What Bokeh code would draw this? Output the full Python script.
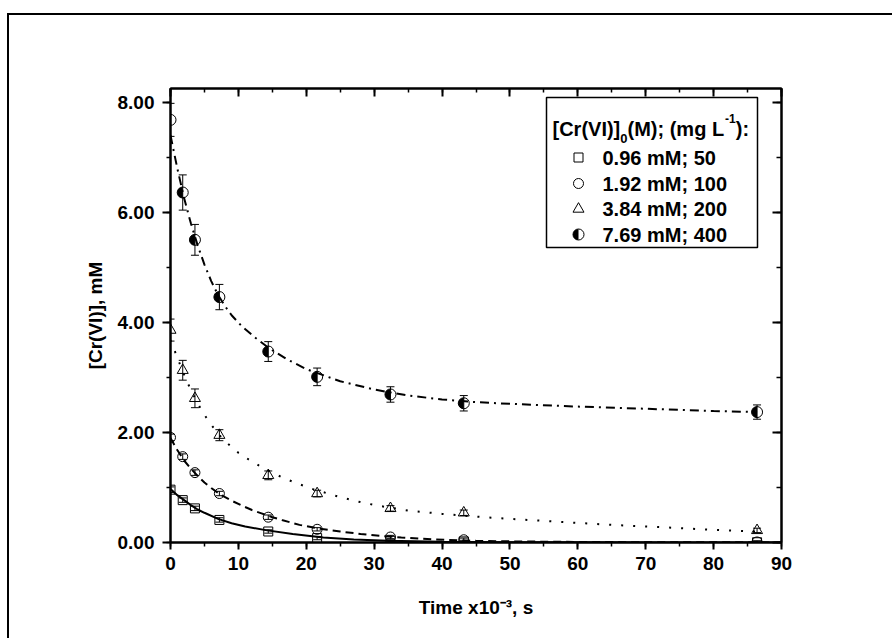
import math
from bokeh.plotting import figure
from bokeh.layouts import column
from bokeh.models import (Range1d, LinearAxis, ColumnDataSource, Whisker, TeeHead,
                          SingleIntervalTicker, PrintfTickFormatter, CustomJSTickFormatter)
from bokeh.core.properties import value
from bokeh.embed import file_html
from bokeh.resources import INLINE

# ---------------- data ----------------
time_ks = [0, 1.8, 3.6, 7.2, 14.4, 21.6, 32.4, 43.2, 86.4]

c_050 = [0.96, 0.77, 0.62, 0.41, 0.20, 0.08, 0.03, 0.02, 0.005]
c_100 = [1.91, 1.56, 1.27, 0.89, 0.46, 0.24, 0.10, 0.05, 0.01]
c_200 = [3.86, 3.13, 2.62, 1.95, 1.22, 0.89, 0.62, 0.54, 0.22]
c_400 = [7.68, 6.36, 5.50, 4.46, 3.47, 3.01, 2.69, 2.53, 2.37]

e_050 = [0.05, 0.04, 0.04, 0.04, 0.03, 0.03, 0.02, 0.02, 0.02]
e_100 = [0.06, 0.05, 0.05, 0.04, 0.04, 0.03, 0.03, 0.03, 0.02]
e_200 = [0.20, 0.18, 0.17, 0.10, 0.08, 0.06, 0.05, 0.05, 0.04]
e_400 = [0.30, 0.32, 0.28, 0.23, 0.18, 0.16, 0.14, 0.14, 0.13]

# fitted curves
fit1_t = [0, 1, 2, 3, 4, 5, 7, 9, 11, 14, 18, 22.5, 27, 32, 40, 50, 60, 75, 90]
fit1_v = [0.97, 0.86, 0.77, 0.68, 0.60, 0.54, 0.43, 0.35, 0.29, 0.225, 0.155, 0.09,
          0.055, 0.032, 0.014, 0.006, 0.003, 0.001, 0.0]

fit2_t = [0, 1, 2, 3, 4, 5, 6, 7.5, 9, 10.7, 12, 13.4, 15, 16.4, 19, 22, 25, 28, 31,
          34, 39, 45, 52, 60, 70, 80, 90]
fit2_v = [1.90, 1.68, 1.49, 1.34, 1.21, 1.09, 0.99, 0.86, 0.76, 0.66, 0.59, 0.53, 0.46,
          0.41, 0.32, 0.25, 0.20, 0.155, 0.12, 0.09, 0.055, 0.03, 0.018, 0.01, 0.005,
          0.003, 0.002]

fit3_t = [0, 1, 2, 3, 4, 5, 6, 7.2, 8.5, 10, 11.5, 13, 14.5, 16.5, 18.5, 21, 24, 27,
          30.5, 35, 40, 45, 50, 58, 65, 72, 80, 86.4]
fit3_v = [3.68, 3.36, 3.05, 2.77, 2.53, 2.32, 2.14, 1.95, 1.79, 1.63, 1.51, 1.40, 1.30,
          1.18, 1.08, 0.97, 0.86, 0.76, 0.67, 0.58, 0.52, 0.47, 0.43, 0.37, 0.32, 0.28,
          0.23, 0.20]

fit4_t = [0, 1, 2, 3, 4, 5, 6, 7, 8, 9, 10.5, 12.5, 14.4, 17, 20, 25, 30, 35, 40, 45,
          50, 60, 70, 80, 86.4]
fit4_v = [7.40, 6.80, 6.26, 5.80, 5.40, 5.05, 4.75, 4.50, 4.30, 4.13, 3.93, 3.72, 3.54,
          3.34, 3.15, 2.93, 2.78, 2.67, 2.60, 2.55, 2.52, 2.47, 2.43, 2.39, 2.37]

legend_title = ["[Cr(VI)]", "0", "(M); (mg L", "-1", "):"]
legend_labels = ["0.96 mM; 50", "1.92 mM; 100", "3.84 mM; 200", "7.69 mM; 400"]

x_ticks_interval = 10
y_ticks_interval = 2

# ---------------- layout ----------------
FONT = "Liberation Sans"
OX, OY = 9, 15                       # canvas origin on the page
FL, FR, FT, FB = 170, 781, 88, 542   # frame on the page
W, H = 885, 625
X1, Y1 = 90.0, 8.25


def dx(px):
    return (px - FL) / (FR - FL) * X1


def dy(py):
    return (FB - py) / (FB - FT) * Y1


fig = figure(width=W, height=H, x_range=Range1d(0, X1), y_range=Range1d(0, Y1),
             output_backend="svg", toolbar_location=None,
             min_border_left=FL - OX, min_border_right=W - (FR - OX),
             min_border_top=FT - OY, min_border_bottom=H - (FB - OY))
fig.background_fill_color = "white"
fig.border_fill_color = "white"
fig.outline_line_color = "black"
fig.outline_line_width = 2
fig.grid.visible = False

xt = SingleIntervalTicker(interval=x_ticks_interval, num_minor_ticks=2)
yt = SingleIntervalTicker(interval=y_ticks_interval, num_minor_ticks=2)


def style_axis(ax, tin, tout, min_in, min_out):
    ax.axis_line_width = 2
    ax.major_tick_line_width = 2
    ax.minor_tick_line_width = 1.5
    ax.major_tick_in = tin
    ax.major_tick_out = tout
    ax.minor_tick_in = min_in
    ax.minor_tick_out = min_out
    ax.major_label_text_font = FONT
    ax.major_label_text_font_style = "bold"
    ax.major_label_text_font_size = "19px"
    ax.major_label_text_color = "black"
    ax.axis_label_text_font = FONT
    ax.axis_label_text_font_style = "bold"
    ax.axis_label_text_font_size = "19px"
    ax.axis_label_text_color = "black"


xa = fig.xaxis[0]
xa.ticker = xt
style_axis(xa, 0, 7, 0, 4)
xa.major_label_standoff = 7
xa.axis_label = "Time x10\u207b\u00b3, s"
xa.axis_label_standoff = 24

ya = fig.yaxis[0]
ya.ticker = yt
ya.formatter = PrintfTickFormatter(format="%.2f")
style_axis(ya, 0, 8, 0, 4)
ya.major_label_standoff = 8
ya.axis_label = "[Cr(VI)], mM"
ya.axis_label_standoff = 9

empty = CustomJSTickFormatter(code="return ''")
top = LinearAxis(ticker=xt, formatter=empty)
style_axis(top, 8, 0, 4, 0)
fig.add_layout(top, "above")
right = LinearAxis(ticker=yt, formatter=empty)
style_axis(right, 9, 0, 5, 0)
fig.add_layout(right, "right")

# ---------------- fitted curves ----------------
fig.line(fit1_t, fit1_v, line_color="black", line_width=2)
fig.line(fit2_t, fit2_v, line_color="black", line_width=2, line_dash="8 5")
fig.line(fit3_t, fit3_v, line_color="black", line_width=2, line_dash="2 10")
fig.line(fit4_t, fit4_v, line_color="black", line_width=2, line_dash="9 5 2 5")

# ---------------- error bars ----------------
for vals, errs in [(c_050, e_050), (c_100, e_100), (c_200, e_200), (c_400, e_400)]:
    src = ColumnDataSource(dict(t=time_ks,
                                up=[v + e for v, e in zip(vals, errs)],
                                lo=[v - e for v, e in zip(vals, errs)]))
    w = Whisker(base="t", upper="up", lower="lo", source=src, dimension="height",
                line_color="black", line_width=1,
                upper_head=TeeHead(size=8, line_color="black", line_width=1),
                lower_head=TeeHead(size=8, line_color="black", line_width=1))
    fig.add_layout(w)

# ---------------- markers ----------------
fig.scatter(time_ks, c_050, marker="square", size=9, fill_color=None,
            line_color="black", line_width=1)
fig.scatter(time_ks, c_100, marker="circle", size=10, fill_color=None,
            line_color="black", line_width=1)
fig.scatter(time_ks, c_200, marker="triangle", size=11, fill_color=None,
            line_color="black", line_width=1)
fig.wedge(time_ks, c_400, radius=5.5, radius_units="screen", start_angle=math.pi / 2,
          end_angle=3 * math.pi / 2, fill_color="black", line_color=None)
fig.scatter(time_ks, c_400, marker="circle", size=11, fill_color=None,
            line_color="black", line_width=1)

# ---------------- legend (drawn by hand) ----------------
fig.quad(left=[dx(546)], right=[dx(757)], top=[dy(97)], bottom=[dy(247)],
         fill_color="white", line_color="black", line_width=1.5)

tf = value(FONT)
title_x = [552, 619.8, 627, 724.6, 735.3]
title_y = [128, 138, 128, 118, 128]
title_sz = ["20px", "13px", "20px", "12px", "20px"]
for s, xx, yy, fs in zip(legend_title, title_x, title_y, title_sz):
    fig.text([dx(xx)], [dy(yy)], text=[s], text_font=tf, text_font_style="bold",
             text_font_size=fs, text_baseline="middle", text_align="left",
             text_color="black")

rows = [157, 183, 208.5, 234]
mx = dx(578)
fig.scatter([mx], [dy(rows[0])], marker="square", size=9, fill_color=None,
            line_color="black", line_width=1)
fig.scatter([mx], [dy(rows[1])], marker="circle", size=10, fill_color=None,
            line_color="black", line_width=1)
fig.scatter([mx], [dy(rows[2])], marker="triangle", size=11, fill_color=None,
            line_color="black", line_width=1)
fig.wedge([mx], [dy(rows[3])], radius=5.5, radius_units="screen",
          start_angle=math.pi / 2, end_angle=3 * math.pi / 2,
          fill_color="black", line_color=None)
fig.scatter([mx], [dy(rows[3])], marker="circle", size=11, fill_color=None,
            line_color="black", line_width=1)
fig.text([dx(602)] * 4, [dy(r) for r in rows], text=legend_labels, text_font=tf,
         text_font_style="bold", text_font_size="20px", text_baseline="middle",
         text_align="left", text_color="black")

# page frame: left and top edges drawn as a shadow of the wrapping box
p = column(fig, margin=(OY, 0, 0, OX),
           styles={"box-shadow": "-2px -2px 0px 0px black"})

open("out.html", "w").write(file_html(p, INLINE))
